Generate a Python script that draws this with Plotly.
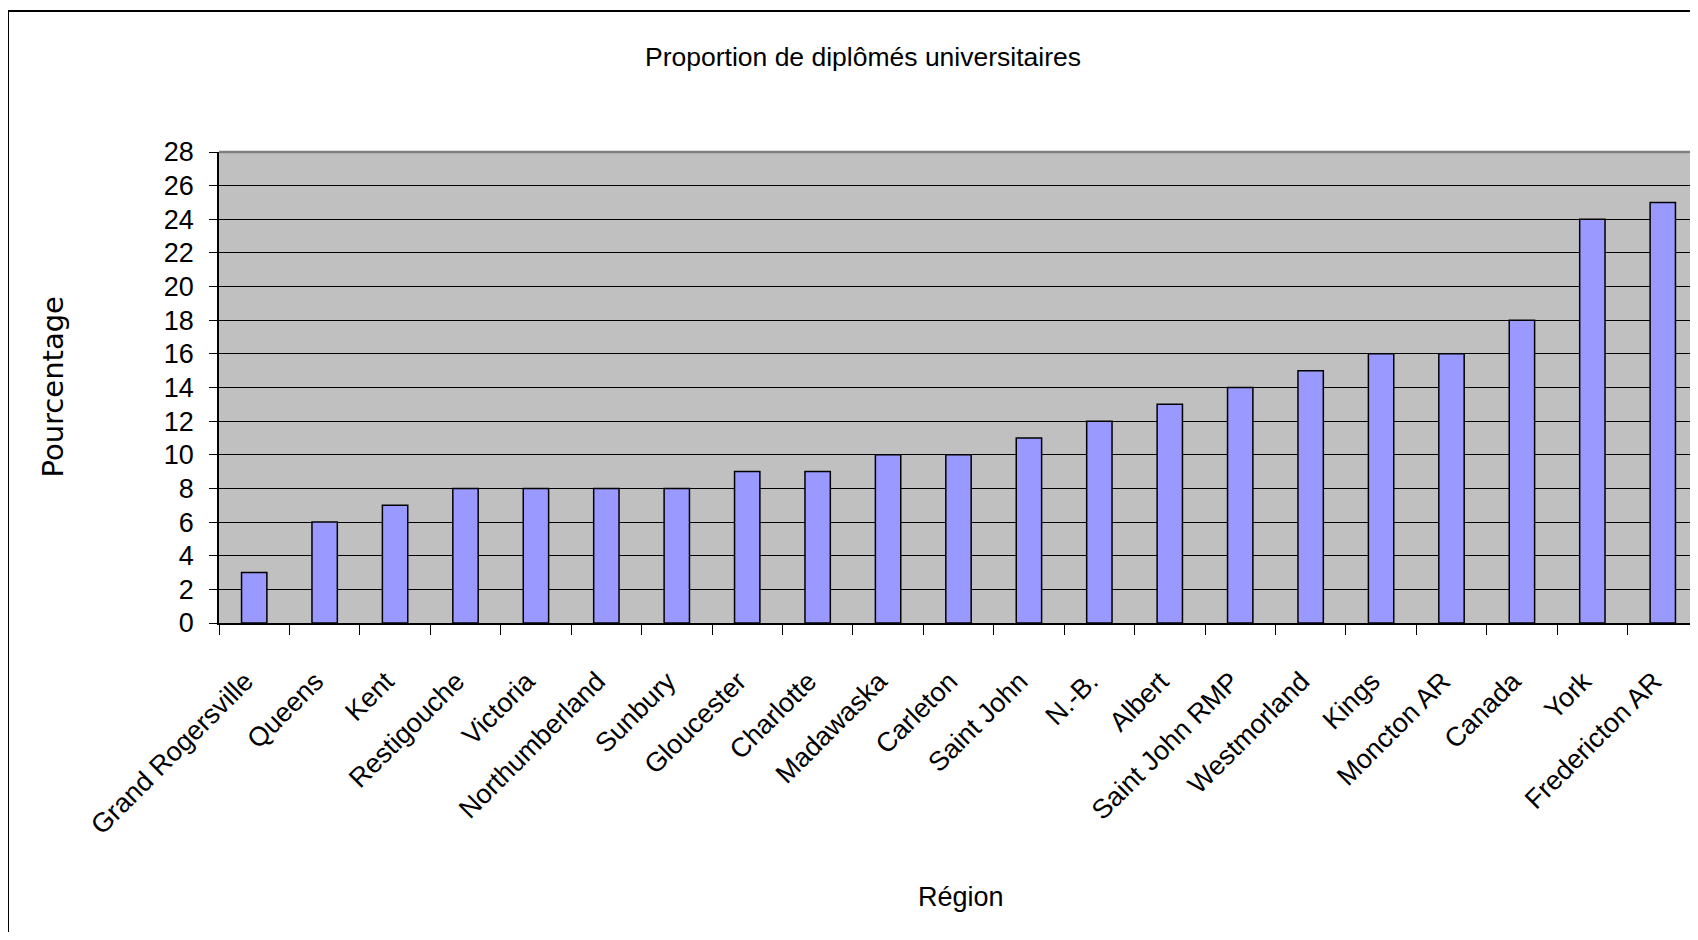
import plotly.graph_objects as go

regions = ["Grand Rogersville", "Queens", "Kent", "Restigouche", "Victoria",
           "Northumberland", "Sunbury", "Gloucester", "Charlotte", "Madawaska",
           "Carleton", "Saint John", "N.-B.", "Albert", "Saint John RMP",
           "Westmorland", "Kings", "Moncton AR", "Canada", "York", "Fredericton AR"]
pourcentage = [3, 6, 7, 8, 8, 8, 8, 9, 9, 10, 10, 11, 12, 13, 14, 15, 16, 16, 18, 24, 25]
y_ticks = list(range(0, 29, 2))

# page body has an 8px margin: figure is placed at (8, 8)
OFF = 8
W, H = 1698 - OFF, 940 - 2 * OFF
L, R, T = 219 - OFF, 0, 152 - OFF
B = H - T - (623 - 152)
FONT = "Liberation Sans, Arial, sans-serif"

fig = go.Figure(go.Bar(
    x=regions, y=pourcentage,
    marker=dict(color="#9999FF", line=dict(color="black", width=1.5)),
))

pw = W - L - R
ph = H - T - B

fig.update_layout(
    width=W, height=H,
    margin=dict(l=L, r=R, t=T, b=B, pad=0, autoexpand=False),
    paper_bgcolor="white", plot_bgcolor="#C0C0C0",
    bargap=0.64,
    showlegend=False,
    font=dict(family=FONT, color="black"),
    title=dict(text="Proportion de diplômés universitaires",
               x=(863 - OFF) / W, xref="container", xanchor="center",
               y=1 - (57 - OFF) / H, yref="container", yanchor="middle",
               font=dict(family=FONT, size=26.5, color="black")),
    xaxis=dict(type="category", showline=True, linecolor="black", linewidth=1.5,
               ticks="outside", ticklen=10, tickcolor="black", tickwidth=1,
               tickson="boundaries", tickangle=-45,
               tickfont=dict(family=FONT, size=27, color="black"),
               ticklabelstandoff=30, ticklabelshift=-9,
               showgrid=False, range=[-0.5, 20.5]),
    yaxis=dict(range=[0, 28], tickvals=y_ticks, ticktext=[str(v) for v in y_ticks],
               showline=True, linecolor="black", linewidth=1.5,
               ticks="outside", ticklen=8, tickcolor="black", tickwidth=1,
               showgrid=True, gridcolor="black", gridwidth=1,
               tickfont=dict(family=FONT, size=27, color="black"),
               ticklabelstandoff=10, zeroline=False),
    annotations=[
        dict(text="Pourcentage", textangle=-90, xref="paper", yref="paper",
             x=(52 - 219) / pw, y=0.5, xanchor="center", yanchor="middle",
             showarrow=False,
             font=dict(family="DejaVu Sans, Liberation Sans, sans-serif", size=29, color="black")),
        dict(text="Région", xref="paper", yref="paper",
             x=(961 - 219) / pw, y=(623 - 897) / ph, xanchor="center", yanchor="middle",
             showarrow=False, font=dict(family=FONT, size=27, color="black")),
    ],
    shapes=[
        dict(type="line", xref="paper", yref="paper", x0=0, x1=1, y0=1, y1=1,
             line=dict(color="#808080", width=2.5), layer="above"),
        dict(type="rect", xref="paper", yref="paper",
             x0=(8 - 219) / pw, x1=1.2, y0=-1.0, y1=(623 - 11) / ph,
             line=dict(color="black", width=2), layer="above"),
    ],
)

fig.write_html("out.html")
